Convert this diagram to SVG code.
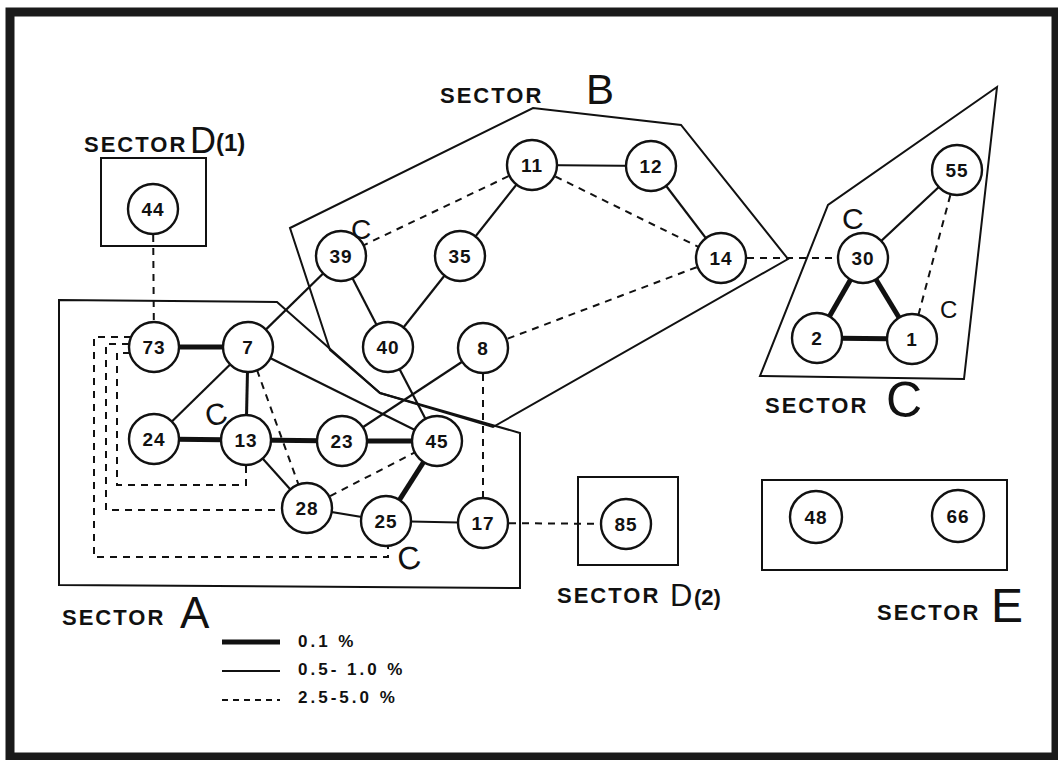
<svg xmlns="http://www.w3.org/2000/svg" width="1058" height="760" viewBox="0 0 1058 760">
<style>
.frame{fill:none;stroke:#1a1a1a;stroke-width:9}
.sec{fill:none;stroke:#111;stroke-width:2}
.n circle{fill:#fff;stroke:#111;stroke-width:2.4}
.n text{font-family:"Liberation Sans",Arial,sans-serif;font-weight:bold;font-size:19px;fill:#111;text-anchor:middle;letter-spacing:1px}
.thick{stroke:#111;stroke-width:5;fill:none}
.med{stroke:#111;stroke-width:2.2;fill:none}
.dash{stroke:#111;stroke-width:2;stroke-dasharray:7 6;fill:none}
.st{font-family:"Liberation Sans",Arial,sans-serif;font-weight:bold;font-size:22px;letter-spacing:2px;fill:#111}
.big{font-family:"Liberation Sans",Arial,sans-serif;fill:#111}
.par{font-family:"Liberation Sans",Arial,sans-serif;font-weight:bold;fill:#111}
.hand{font-family:"Liberation Sans",Arial,sans-serif;font-weight:normal;fill:#111}
.leg{font-family:"Liberation Sans",Arial,sans-serif;font-weight:bold;font-size:17px;letter-spacing:3px;fill:#111}
</style>
<rect x="0" y="0" width="1058" height="760" fill="#fff"/>
<rect class="frame" x="10" y="12" width="1046" height="745"/>

<g id="sectors">
<polygon class="sec" points="59,300 277,302 380,393 520,433 520,588 59,585"/>
<polygon class="sec" points="290,228 533,108 681,125 788,259 493,427 380,393 330,350"/>
<polygon class="sec" points="997,87 828,205 760,376 964,379"/>
<rect class="sec" x="101" y="158" width="105" height="88"/>
<rect class="sec" x="578" y="477" width="100" height="88"/>
<rect class="sec" x="762" y="480" width="245" height="90"/>
</g>

<g id="connectors">
<line class="thick" x1="154" y1="347" x2="248" y2="347"/>
<line class="thick" x1="154" y1="439" x2="246" y2="440"/>
<line class="thick" x1="246" y1="440" x2="342" y2="441"/>
<line class="thick" x1="342" y1="441" x2="437" y2="441"/>
<line class="thick" x1="437" y1="441" x2="386" y2="521"/>
<line class="thick" x1="863" y1="258" x2="817" y2="338"/>
<line class="thick" x1="863" y1="258" x2="912" y2="339"/>
<line class="thick" x1="817" y1="338" x2="912" y2="339"/>

<line class="med" x1="248" y1="347" x2="154" y2="439"/>
<line class="med" x1="248" y1="347" x2="246" y2="440" style="stroke-width:3"/>
<line class="med" x1="248" y1="347" x2="341" y2="256"/>
<line class="med" x1="248" y1="347" x2="437" y2="441"/>
<line class="med" x1="246" y1="440" x2="307" y2="508"/>
<line class="med" x1="307" y1="508" x2="386" y2="521"/>
<line class="med" x1="386" y1="521" x2="483" y2="523"/>
<line class="med" x1="341" y1="256" x2="388" y2="347"/>
<line class="med" x1="460" y1="256" x2="388" y2="347"/>
<line class="med" x1="460" y1="256" x2="532" y2="165"/>
<line class="med" x1="532" y1="165" x2="651" y2="166"/>
<line class="med" x1="651" y1="166" x2="721" y2="258"/>
<line class="med" x1="342" y1="441" x2="483" y2="348"/>
<line class="med" x1="388" y1="347" x2="437" y2="441"/>
<line class="med" x1="863" y1="258" x2="957" y2="170"/>

<line class="dash" x1="153" y1="209" x2="154" y2="347"/>
<line class="dash" x1="257" y1="370" x2="307" y2="508"/>
<line class="dash" x1="307" y1="508" x2="437" y2="441"/>
<line class="dash" x1="532" y1="165" x2="341" y2="256"/>
<line class="dash" x1="532" y1="165" x2="721" y2="258"/>
<line class="dash" x1="721" y1="258" x2="483" y2="348"/>
<line class="dash" x1="721" y1="258" x2="863" y2="258"/>
<line class="dash" x1="957" y1="170" x2="912" y2="339"/>
<line class="dash" x1="483" y1="348" x2="483" y2="523"/>
<line class="dash" x1="483" y1="523" x2="626" y2="524"/>
<path class="dash" d="M131,337 H94 V557 H388 V546"/>
<path class="dash" d="M129,344 H106 V510 H282"/>
<path class="dash" d="M130,353 H117 V485 H246 V465"/>
</g>

<g id="n44" class="n"><circle cx="153" cy="209" r="25"/><text x="153" y="216">44</text></g>
<g id="n73" class="n"><circle cx="154" cy="347" r="25"/><text x="154" y="354">73</text></g>
<g id="n7" class="n"><circle cx="248" cy="347" r="25"/><text x="248" y="354">7</text></g>
<g id="n24" class="n"><circle cx="154" cy="439" r="25"/><text x="154" y="446">24</text></g>
<g id="n13" class="n"><circle cx="246" cy="440" r="25"/><text x="246" y="447">13</text></g>
<g id="n23" class="n"><circle cx="342" cy="441" r="25"/><text x="342" y="448">23</text></g>
<g id="n45" class="n"><circle cx="437" cy="441" r="25"/><text x="437" y="448">45</text></g>
<g id="n28" class="n"><circle cx="307" cy="508" r="25"/><text x="307" y="515">28</text></g>
<g id="n25" class="n"><circle cx="386" cy="521" r="25"/><text x="386" y="528">25</text></g>
<g id="n17" class="n"><circle cx="483" cy="523" r="25"/><text x="483" y="530">17</text></g>
<g id="n85" class="n"><circle cx="626" cy="524" r="25"/><text x="626" y="531">85</text></g>
<g id="n39" class="n"><circle cx="341" cy="256" r="25"/><text x="341" y="263">39</text></g>
<g id="n35" class="n"><circle cx="460" cy="256" r="25"/><text x="460" y="263">35</text></g>
<g id="n40" class="n"><circle cx="388" cy="347" r="25"/><text x="388" y="354">40</text></g>
<g id="n8" class="n"><circle cx="483" cy="348" r="25"/><text x="483" y="355">8</text></g>
<g id="n11" class="n"><circle cx="532" cy="165" r="25"/><text x="532" y="172">11</text></g>
<g id="n12" class="n"><circle cx="651" cy="166" r="25"/><text x="651" y="173">12</text></g>
<g id="n14" class="n"><circle cx="721" cy="258" r="25"/><text x="721" y="265">14</text></g>
<g id="n30" class="n"><circle cx="863" cy="258" r="25"/><text x="863" y="265">30</text></g>
<g id="n55" class="n"><circle cx="957" cy="170" r="25"/><text x="957" y="177">55</text></g>
<g id="n2" class="n"><circle cx="817" cy="338" r="25"/><text x="817" y="345">2</text></g>
<g id="n1" class="n"><circle cx="912" cy="339" r="25"/><text x="912" y="346">1</text></g>
<g id="n48" class="n"><circle cx="816" cy="517" r="26"/><text x="816" y="524">48</text></g>
<g id="n66" class="n"><circle cx="958" cy="516" r="26"/><text x="958" y="523">66</text></g>

<g id="labels">
<text class="st" x="84" y="152">SECTOR</text>
<text class="big" x="190" y="153" font-size="36">D</text>
<text class="par" x="216" y="151" font-size="24">(1)</text>
<text class="st" x="440" y="103">SECTOR</text>
<text class="big" x="586" y="104" font-size="42">B</text>
<text class="st" x="765" y="413">SECTOR</text>
<text class="big" x="886" y="417" font-size="50">C</text>
<text class="st" x="62" y="625">SECTOR</text>
<text class="big" x="180" y="628" font-size="44">A</text>
<text class="st" x="557" y="603">SECTOR</text>
<text class="big" x="670" y="606" font-size="31">D</text>
<text class="par" x="694" y="605" font-size="22">(2)</text>
<text class="st" x="877" y="620">SECTOR</text>
<text class="big" x="991" y="622" font-size="48">E</text>

<text class="hand" x="205" y="425" font-size="30" transform="rotate(-15 215 414)">C</text>
<text class="hand" x="351" y="239" font-size="28">C</text>
<text class="hand" x="842" y="229" font-size="30">C</text>
<text class="hand" x="940" y="318" font-size="24">C</text>
<text class="hand" x="397" y="569" font-size="32" transform="rotate(-10 410 556)">C</text>
</g>

<g id="legend">
<line class="thick" x1="222" y1="642" x2="280" y2="642"/>
<text class="leg" x="298" y="647">0.1 %</text>
<line class="med" x1="222" y1="671" x2="280" y2="671"/>
<text class="leg" x="298" y="675">0.5- 1.0 %</text>
<line class="dash" x1="222" y1="700" x2="280" y2="700" style="stroke-dasharray:6 5"/>
<text class="leg" x="298" y="703">2.5-5.0 %</text>
</g>
</svg>
